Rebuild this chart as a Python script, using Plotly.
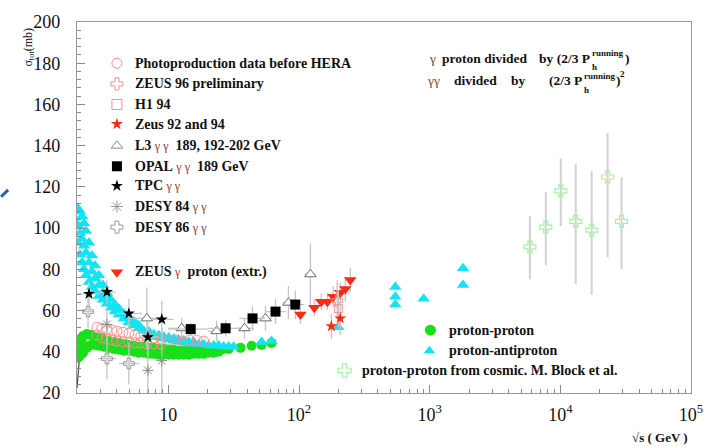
import plotly.graph_objects as go

# ---------------- data (sqrt(s) in GeV, sigma_tot in mb) ----------------
# proton-proton: low-energy band + ISR
pp_sqrts = [2.035, 2.035, 2.035, 2.108, 2.108, 2.108, 2.223, 2.223, 2.223,
            2.384, 2.384, 2.558, 2.558, 2.744, 2.744, 2.943, 2.943, 3.215, 3.215,
            3.510, 3.510, 3.832, 3.832, 4.184, 4.184, 4.569, 4.569, 4.988, 4.988,
            5.446, 5.446, 5.947, 5.947, 6.494, 6.494, 7.091, 7.091, 7.742, 7.742,
            8.454, 8.454, 9.229, 9.229, 10.08, 10.08, 11.00, 11.00, 12.01, 12.01,
            13.12, 13.12, 14.32, 14.32, 15.64, 15.64, 17.07, 17.07, 18.64, 18.64,
            20.35, 20.35, 22.23, 22.23, 24.26, 24.26, 26.49, 28.93,
            35.7, 43.4, 51.7, 61.6]
pp_sigma = [44.3, 40.7, 37.1, 46.2, 42.1, 38.1, 47.6, 43.6, 39.5,
            48.6, 41.9, 48.1, 43.3, 47.1, 43.3, 46.7, 42.9, 46.2, 42.4,
            45.2, 41.9, 44.8, 41.4, 44.3, 41.0, 43.8, 40.5, 43.3, 40.5,
            42.9, 40.0, 42.4, 39.5, 42.4, 39.5, 41.9, 39.0, 41.9, 39.0,
            41.4, 38.6, 41.4, 38.6, 41.0, 38.6, 41.0, 38.6, 40.5, 38.6,
            40.5, 38.6, 40.5, 38.6, 40.5, 39.0, 40.5, 39.0, 41.0, 39.0,
            41.0, 39.5, 41.0, 39.5, 41.0, 40.0, 41.4, 41.4,
            41.9, 42.9, 43.3, 44.3]

# near-threshold proton-proton trend
thr_sqrts = [2.0, 2.05, 2.11]
thr_sigma = [22.5, 31.0, 40.5]

# proton-antiproton
ppbar_sqrts = [2.035, 2.035, 2.035, 2.108, 2.108, 2.108, 2.184, 2.184, 2.184,
               2.262, 2.262, 2.262, 2.343, 2.343, 2.343, 2.470, 2.470, 2.470,
               2.603, 2.603, 2.603, 2.744, 2.744, 2.744, 2.943, 2.943, 2.943,
               3.158, 3.158, 3.158, 3.388, 3.388, 3.388, 3.635, 3.635,
               3.900, 3.900, 4.184, 4.184, 4.569, 4.569, 4.988, 4.988,
               5.446, 5.446, 5.947, 5.947, 6.494,
               7.091, 7.742, 8.454, 9.229, 10.08, 11.00, 12.01, 13.12, 14.32,
               15.64, 17.07, 18.64, 20.35, 22.23, 24.26, 26.49, 28.93, 31.58,
               7.091, 7.742, 8.454, 9.229, 10.08, 11.00, 12.01, 13.12, 14.32, 15.64,
               51.7, 61.6, 200, 546, 546, 546, 900, 1800, 1800]
ppbar_sigma = [109.5, 101.4, 92.9, 108.1, 97.6, 87.1, 105.7, 94.8, 83.3,
               102.4, 91.4, 80.0, 98.6, 88.1, 77.1, 92.9, 83.3, 73.8,
               86.7, 79.0, 71.4, 81.9, 75.7, 69.5, 77.1, 72.4, 67.1,
               72.4, 69.0, 65.2, 68.6, 66.2, 63.3, 65.2, 61.4,
               62.9, 59.5, 61.0, 58.1, 58.6, 56.2, 56.7, 54.3,
               54.8, 52.9, 52.9, 51.4, 50.2,
               49.0, 47.6, 47.1, 46.4, 46.0, 45.5, 45.0, 44.5, 44.0,
               44.0, 43.6, 43.6, 43.1, 43.1, 43.1, 42.6, 42.6, 42.4,
               49.8, 48.5, 48.0, 47.3, 46.9, 46.4, 45.9, 45.4, 44.9, 44.8,
               44.8, 45.2, 51.9, 71.4, 66.7, 62.9, 65.7, 80.5, 72.4]

# photoproduction before HERA (gamma p, rescaled)
gp_old_sqrts = [2.843, 2.843, 3.103, 3.103, 3.388, 3.388, 3.700, 3.700,
                4.040, 4.040, 4.488, 4.488, 4.988, 4.988, 5.543, 5.543,
                6.160, 6.160, 6.845, 6.845, 7.742, 7.742, 8.757, 8.757,
                10.08, 11.40, 12.89, 14.58, 16.48, 18.64]
gp_old_sigma = [51.9, 48.1, 51.4, 46.7, 51.0, 46.2, 50.5, 45.7,
                50.0, 45.2, 49.5, 44.8, 49.0, 44.8, 48.1, 44.3,
                47.6, 44.3, 47.1, 43.8, 46.7, 43.8, 46.2, 43.8,
                45.7, 45.7, 45.2, 45.7, 45.7, 45.2]

# HERA gamma p
zeus96_sqrts, zeus96_sigma, zeus96_err = [196], [64.8], [10.0]
h1_sqrts, h1_sigma, h1_err = [200], [61.0], [9.0]
zeus9294_sqrts = [177, 207]
zeus9294_sigma = [52.4, 56.2]
zeus9294_err = [6.0, 8.0]

# ZEUS gamma proton (extrapolated)
zeus_ext_sqrts = [102.5, 131, 148, 165, 183, 207, 226, 247]
zeus_ext_sigma = [58.1, 61.4, 64.3, 64.3, 66.7, 68.6, 70.5, 74.8]
zeus_ext_err = [4.5, 4.0, 4.0, 4.0, 5.0, 5.0, 6.0, 6.0]

# L3 gamma gamma
l3_sqrts = [6.85, 12.66, 23.43, 38.3, 55.4, 83.0, 122.3]
l3_sigma = [56.2, 51.4, 50.0, 51.4, 56.2, 63.8, 77.6]
l3_err = [15, 5, 5, 5, 6, 8, 15]
l3_bin_lo = [5.0, 10.0, 20.0, 33.0, 50.0, 75.0, 110.0]
l3_bin_hi = [9.0, 15.0, 29.0, 45.0, 62.0, 92.0, 135.0]

# OPAL gamma gamma
opal_sqrts = [14.83, 27.44, 44.1, 66.1, 93.7]
opal_sigma = [51.0, 51.4, 56.2, 59.5, 62.9]
opal_err = [3, 4, 6, 6, 7]
opal_bin_lo = [10, 20, 35, 55, 80]
opal_bin_hi = [20, 35, 55, 80, 110]

# TPC gamma gamma
tpc_sqrts = [2.47, 3.39, 4.99, 6.97, 8.91]
tpc_sigma = [68.1, 69.0, 58.6, 47.1, 55.7]
tpc_err = [6, 6, 7, 8, 9]
tpc_bin_lo = [2.0, 2.9, 4.0, 5.95, 7.4]
tpc_bin_hi = [2.95, 3.97, 6.3, 8.45, 11.0]

# DESY gamma gamma
desy84_sqrts = [3.39, 6.97, 8.91]
desy84_sigma = [53.3, 31.0, 35.7]
desy84_err = [8, 18, 16]
desy86_sqrts = [2.43, 3.39, 4.99]
desy86_sigma = [59.5, 36.7, 34.3]
desy86_err = [8, 10, 10]
desy86_bin_lo = [2.2, 2.9, 4.2]
desy86_bin_hi = [2.7, 4.0, 6.0]

# proton-proton from cosmic rays (M. Block et al.)
cosmic_sqrts = [5850, 7740, 10080, 13120, 17380, 23000, 29400]
cosmic_sigma = [90.9, 100.5, 118.1, 103.3, 99.0, 124.8, 103.3]
cosmic_err_up = [14.8, 17.1, 15.7, 27.6, 28.6, 21.4, 21.4]
cosmic_err_dn = [15.7, 18.6, 17.1, 30.5, 31.4, 39.0, 23.3]

x_tick_vals = [10, 100, 1000, 10000, 100000]
x_tick_text = ["10", "10<sup>2</sup>", "10<sup>3</sup>", "10<sup>4</sup>", "10<sup>5</sup>"]

# ---------------- styling ----------------
SERIF = "Liberation Serif"
ERR = "#c4c4c4"
GREEN = "#18e018"
CYAN = "#12e4f4"
PINK = "#ff8c8c"
RED = "#ff2a10"
COSMIC = "#a6f2a6"
GG = "#8b3a3a"
TXT = "#111"


def yerr(vals, minus=None):
    d = dict(type="data", array=vals, color=ERR, thickness=1.3, width=0)
    if minus is not None:
        d.update(arrayminus=minus, symmetric=False)
    return d


def xbin(x, lo, hi):
    return dict(type="data", symmetric=False,
                array=[h - v for v, h in zip(x, hi)],
                arrayminus=[v - l for v, l in zip(x, lo)],
                color=ERR, thickness=1.3, width=0)


fig = go.Figure()

fig.add_trace(go.Scatter(x=thr_sqrts, y=thr_sigma, mode="lines",
                         line=dict(color="#444", width=1.2), hoverinfo="skip"))
fig.add_trace(go.Scatter(x=pp_sqrts, y=pp_sigma, mode="markers",
                         marker=dict(symbol="circle", size=10, color=GREEN)))
fig.add_trace(go.Scatter(x=ppbar_sqrts, y=ppbar_sigma, mode="markers",
                         marker=dict(symbol="triangle-up", size=11, color=CYAN)))
fig.add_trace(go.Scatter(x=gp_old_sqrts, y=gp_old_sigma, mode="markers",
                         marker=dict(symbol="circle-open", size=10, color=PINK,
                                     line=dict(width=1))))
fig.add_trace(go.Scatter(x=desy86_sqrts, y=desy86_sigma, mode="markers",
                         error_y=yerr(desy86_err),
                         error_x=xbin(desy86_sqrts, desy86_bin_lo, desy86_bin_hi),
                         marker=dict(symbol="cross-open", size=9, color="#9a9a9a",
                                     line=dict(width=1, color="#9a9a9a"))))
fig.add_trace(go.Scatter(x=desy84_sqrts, y=desy84_sigma, mode="markers",
                         error_y=yerr(desy84_err),
                         marker=dict(symbol="asterisk-open", size=9, color="#8a8a8a",
                                     line=dict(width=1, color="#8a8a8a"))))
fig.add_trace(go.Scatter(x=l3_sqrts, y=l3_sigma, mode="markers",
                         error_y=yerr(l3_err),
                         error_x=xbin(l3_sqrts, l3_bin_lo, l3_bin_hi),
                         marker=dict(symbol="triangle-up", size=10, color="white",
                                     line=dict(width=1, color="#6a6a6a"))))
fig.add_trace(go.Scatter(x=opal_sqrts, y=opal_sigma, mode="markers",
                         error_y=yerr(opal_err),
                         error_x=xbin(opal_sqrts, opal_bin_lo, opal_bin_hi),
                         marker=dict(symbol="square", size=10, color="black")))
fig.add_trace(go.Scatter(x=tpc_sqrts, y=tpc_sigma, mode="markers",
                         error_y=yerr(tpc_err),
                         error_x=xbin(tpc_sqrts, tpc_bin_lo, tpc_bin_hi),
                         marker=dict(symbol="star", size=9, color="black")))
fig.add_trace(go.Scatter(x=zeus_ext_sqrts, y=zeus_ext_sigma, mode="markers",
                         error_y=yerr(zeus_ext_err),
                         marker=dict(symbol="triangle-down", size=11, color=RED)))
fig.add_trace(go.Scatter(x=zeus96_sqrts, y=zeus96_sigma, mode="markers",
                         error_y=yerr(zeus96_err),
                         marker=dict(symbol="cross-open", size=9, color=PINK,
                                     line=dict(width=1, color=PINK))))
fig.add_trace(go.Scatter(x=h1_sqrts, y=h1_sigma, mode="markers",
                         error_y=yerr(h1_err),
                         marker=dict(symbol="square-open", size=8, color=PINK,
                                     line=dict(width=1, color=PINK))))
fig.add_trace(go.Scatter(x=zeus9294_sqrts, y=zeus9294_sigma, mode="markers",
                         error_y=yerr(zeus9294_err),
                         marker=dict(symbol="star", size=9, color=RED)))
fig.add_trace(go.Scatter(x=cosmic_sqrts, y=cosmic_sigma, mode="markers",
                         error_y=dict(type="data", array=cosmic_err_up,
                                      arrayminus=cosmic_err_dn, symmetric=False,
                                      color="#d2d2d2", thickness=2, width=0),
                         marker=dict(symbol="cross-open", size=10, color=COSMIC,
                                     line=dict(width=1.2, color=COSMIC))))

# ---------------- legend drawn inside the frame ----------------
L, R, T, B = 77, 692, 15, 393  # plot-area edges (px)


def fx(px):
    return (px - L) / (R - L)


def fy(py):
    return (B - py) / (B - T)


gg = f"<span style='color:{GG};font-weight:normal;font-size:12px'>γ γ</span>"
g1 = f"<span style='color:{GG};font-weight:normal;font-size:12px'>γ</span>"
legend_rows = [
    # (marker, label, y px)
    (dict(symbol="circle-open", size=10, color=PINK, line=dict(width=1, color=PINK)),
     "<b>Photoproduction data before HERA</b>", 57),
    (dict(symbol="cross-open", size=10, color=PINK, line=dict(width=1, color=PINK)),
     "<b>ZEUS 96 preliminary</b>", 78),
    (dict(symbol="square-open", size=10, color=PINK, line=dict(width=1, color=PINK)),
     "<b>H1 94</b>", 99),
    (dict(symbol="star", size=9, color=RED), "<b>Zeus 92 and 94</b>", 119),
    (dict(symbol="triangle-up-open", size=10, color="#8a8a8a",
          line=dict(width=1, color="#8a8a8a")),
     f"<b>L3</b> {gg}  <b>189, 192-202 GeV</b>", 141),
    (dict(symbol="square", size=10, color="black"),
     f"<b>OPAL</b> {gg}  <b>189 GeV</b>", 162),
    (dict(symbol="star", size=9, color="black"), f"<b>TPC</b> {gg}", 182),
    (dict(symbol="asterisk-open", size=10, color="#9a9a9a",
          line=dict(width=1, color="#9a9a9a")),
     f"<b>DESY 84</b> {gg}", 203),
    (dict(symbol="cross-open", size=10, color="#9a9a9a",
          line=dict(width=1, color="#9a9a9a")),
     f"<b>DESY 86</b> {gg}", 224),
    (dict(symbol="triangle-down", size=11, color=RED),
     f"<b>ZEUS</b> {g1}  <b>proton (extr.)</b>", 270),
]

annotations = []
for mk, label, py in legend_rows:
    fig.add_trace(go.Scatter(x=[fx(117)], y=[fy(py)], xaxis="x2", yaxis="y2",
                             mode="markers", marker=mk, hoverinfo="skip"))
    annotations.append(dict(x=fx(133), y=fy(py), xref="paper", yref="paper",
                            text=label, showarrow=False, xanchor="left",
                            yanchor="middle",
                            font=dict(family=SERIF, size=14, color=TXT)))

lower_rows = [
    (dict(symbol="circle", size=11, color=GREEN), "<b>proton-proton</b>", 431, 448, 329),
    (dict(symbol="triangle-up", size=10, color=CYAN), "<b>proton-antiproton</b>", 430, 448, 350),
    (dict(symbol="cross-open", size=11, color=COSMIC, line=dict(width=1.2, color=COSMIC)),
     "<b>proton-proton from cosmic. M. Block et al.</b>", 345, 360, 370),
]
for mk, label, mx, tx, py in lower_rows:
    fig.add_trace(go.Scatter(x=[fx(mx)], y=[fy(py)], xaxis="x2", yaxis="y2",
                             mode="markers", marker=mk, hoverinfo="skip"))
    annotations.append(dict(x=fx(tx), y=fy(py), xref="paper", yref="paper",
                            text=label, showarrow=False, xanchor="left",
                            yanchor="middle",
                            font=dict(family=SERIF, size=14, color=TXT)))


def note(text, px, py, size=13.5, anchor="left"):
    return dict(x=fx(px), y=fy(py), xref="paper", yref="paper", showarrow=False,
                xanchor=anchor, yanchor="middle", text=text,
                font=dict(family=SERIF, size=size, color=TXT))


# scaling notes (top right); P carries a stacked sub/superscript
g1r = f"<span style='color:{GG};font-weight:normal'>γ</span>"
ggr = f"<span style='color:{GG};font-weight:normal'>γγ</span>"
annotations += [
    note(g1r, 428, 52),
    note("<b>proton divided</b>", 441, 52),
    note("<b>by (2/3 P</b>", 593, 52, anchor="right"),
    note("<b>running</b>", 591, 47, size=9),
    note("<b>h</b>", 591, 61, size=9),
    note("<b>)</b>", 624, 52),
    note(ggr, 426, 75),
    note("<b>divided</b>", 453, 75),
    note("<b>by</b>", 510, 75),
    note("<b>(2/3 P</b>", 585, 75, anchor="right"),
    note("<b>running</b>", 583, 70, size=9),
    note("<b>h</b>", 583, 84, size=9),
    note("<b>)</b>", 615, 75),
    note("<b>2</b>", 619, 68, size=9),
]

# axis titles
annotations += [
    dict(x=fx(28), y=fy(41), xref="paper", yref="paper", showarrow=False,
         textangle=-90, xanchor="center", yanchor="middle",
         text="σ<sub>tot</sub>(mb)",
         font=dict(family=SERIF, size=12, color=TXT)),
    note("<b>√s ( GeV )</b>", 661, 438, size=13, anchor="center"),
]

axis_common = dict(showgrid=False, zeroline=False, showline=True, mirror=True,
                   linecolor="#999", linewidth=1.2, ticks="inside",
                   tickcolor="#888", ticklen=8, tickwidth=1,
                   tickfont=dict(family=SERIF, size=18, color=TXT))

fig.update_layout(
    width=715, height=447,
    margin=dict(l=L, r=715 - R, t=T, b=447 - B),
    paper_bgcolor="white", plot_bgcolor="white",
    font=dict(family=SERIF, color=TXT),
    showlegend=False,
    annotations=annotations,
    shapes=[dict(type="line", xref="paper", yref="paper",
                 x0=fx(1), y0=fy(193), x1=fx(8), y1=fy(186),
                 line=dict(color="#2060c0", width=3))],
    xaxis=dict(type="log", range=[0.30103, 5], tickmode="array",
               tickvals=x_tick_vals, ticktext=x_tick_text,
               ticklabelstandoff=5,
               minor=dict(ticks="inside", ticklen=4, tickcolor="#888", dtick="D1"),
               **axis_common),
    yaxis=dict(range=[20, 200], dtick=20, ticklabelstandoff=12,
               minor=dict(ticks="inside", ticklen=4, tickcolor="#888", dtick=4),
               **axis_common),
    xaxis2=dict(overlaying="x", range=[0, 1], visible=False),
    yaxis2=dict(overlaying="y", range=[0, 1], visible=False),
)

fig.write_html("out.html")
